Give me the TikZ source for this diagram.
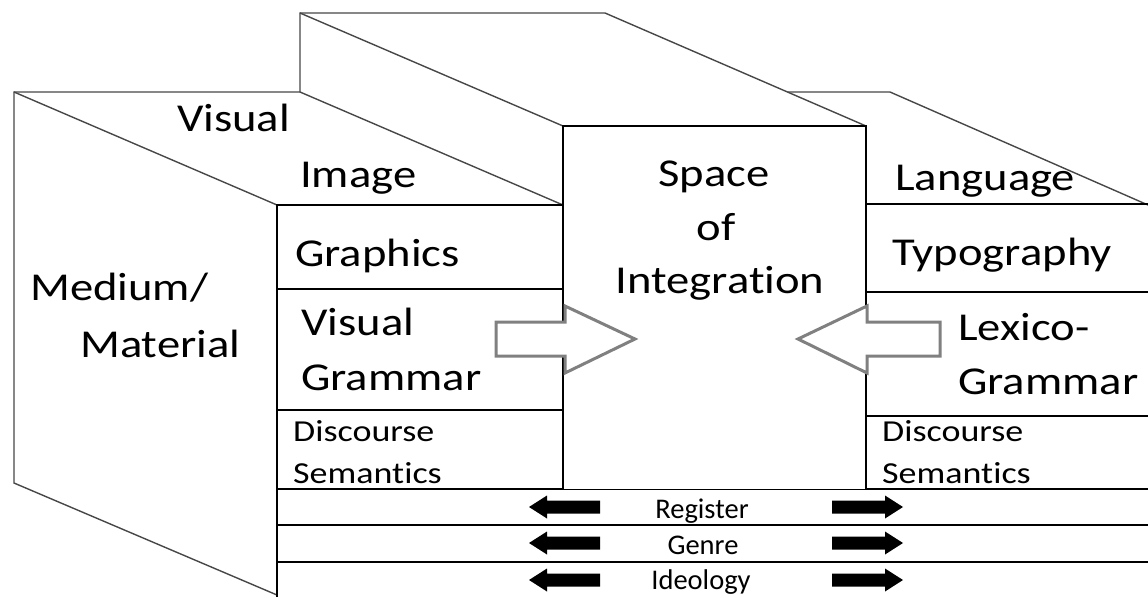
\documentclass[tikz,border=0pt]{standalone}
\usepackage{fontspec}
\setmainfont{Carlito}[FakeStretch=1.18,Ligatures=NoCommon]
\newfontfamily\bandfont{Carlito}[Ligatures=NoCommon]
\begin{document}
\begin{tikzpicture}[x=1pt,y=-1pt,
  backline/.style={draw=black!72,line width=1.4pt,line join=miter},
  frontline/.style={draw=black,line width=2.4pt},
  spacebox/.style={draw=black,line width=2.8pt,fill=white},
  hollowarrow/.style={draw=black!50,line width=3pt,fill=white,line join=miter},
  biglabel/.style={inner sep=0pt,anchor=base west,font=\fontsize{39.5}{40}\selectfont},
  smalllabel/.style={inner sep=0pt,anchor=base west,font=\fontsize{30.5}{31}\selectfont},
  bandlabel/.style={inner sep=0pt,anchor=base,font=\bandfont\fontsize{28.5}{29}\selectfont},
  blkarrow/.pic={\fill[black] (0,-6.5) -- (-53,-6.5) -- (-53,-11.5) -- (-71,0)
      -- (-53,11.5) -- (-53,6.5) -- (0,6.5) -- cycle;}
]
\useasboundingbox (0,0) rectangle (1148,597);

% middle slab behind the space of integration
\draw[backline] (300,92) -- (300,13) -- (605,13) -- (866,126);
\draw[backline] (300,13) -- (563,126);

% right slab (language) top face
\draw[backline] (788,92) -- (890,92) -- (1148,205);

% left block (visual): side and top faces
\draw[backline] (277,595) -- (14,483) -- (14,92) -- (300,92) -- (563,205);
\draw[backline] (14,92) -- (277,205);

% front face of the visual block
\draw[frontline] (277,597) -- (277,205) -- (563,205);
\draw[frontline] (277,289) -- (563,289);
\draw[frontline] (277,410) -- (563,410);

% front face of the language block
\draw[frontline] (866,204) -- (1148,204);
\draw[frontline] (866,292) -- (1148,292);
\draw[frontline] (866,416) -- (1148,416);

% shared bands along the bottom
\draw[frontline] (277,489) -- (1148,489);
\draw[frontline] (277,525) -- (1148,525);
\draw[frontline] (277,562) -- (1148,562);

% space of integration
\draw[spacebox] (563,489) -- (563,126) -- (866,126) -- (866,489);

% hollow arrows feeding into the space of integration
\draw[hollowarrow] (496,322) -- (565,322) -- (565,306) -- (635,339)
  -- (565,373) -- (565,356) -- (496,356) -- cycle;
\draw[hollowarrow] (940,322) -- (867,322) -- (867,306) -- (798,339)
  -- (867,373) -- (867,356) -- (940,356) -- cycle;

% black arrows in the bands
\foreach \y in {507,543,580}{
  \pic at (600,\y) {blkarrow};
  \pic[xscale=-1] at (832,\y) {blkarrow};
}

% labels of the visual block
\node[biglabel] (visualtop) at (177,131) {Visual};
\node[biglabel] (image) at (300,187) {Image};
\node[biglabel] (graphics) at (295,266) {Graphics};
\node[biglabel] (visualgr) at (301,335) {Visual};
\node[biglabel] (grammarL) at (301,390) {Grammar};
\node[smalllabel] (discL) at (293,441) {Discourse};
\node[smalllabel] (semL) at (293,483) {Semantics};
\node[biglabel] (medium) at (30,300) {Medium/};
\node[biglabel] (material) at (80,357) {Material};

% labels of the space of integration
\node[biglabel,anchor=base] (space) at (714,186) {Space};
\node[biglabel,anchor=base] (of) at (716,240) {of};
\node[biglabel,anchor=base] (integration) at (720,293) {Integration};

% labels of the language block
\node[biglabel] (language) at (895,190) {Language};
\node[biglabel] (typography) at (892,265) {Typography};
\node[biglabel] (lexico) at (958,340) {Lexico-};
\node[biglabel] (grammarR) at (958,394) {Grammar};
\node[smalllabel] (discR) at (882,441) {Discourse};
\node[smalllabel] (semR) at (882,483) {Semantics};

% band labels
\node[bandlabel] (register) at (702,518) {Register};
\node[bandlabel] (genre) at (703,554) {Genre};
\node[bandlabel] (ideology) at (701,589) {Ideology};
\end{tikzpicture}
\end{document}
